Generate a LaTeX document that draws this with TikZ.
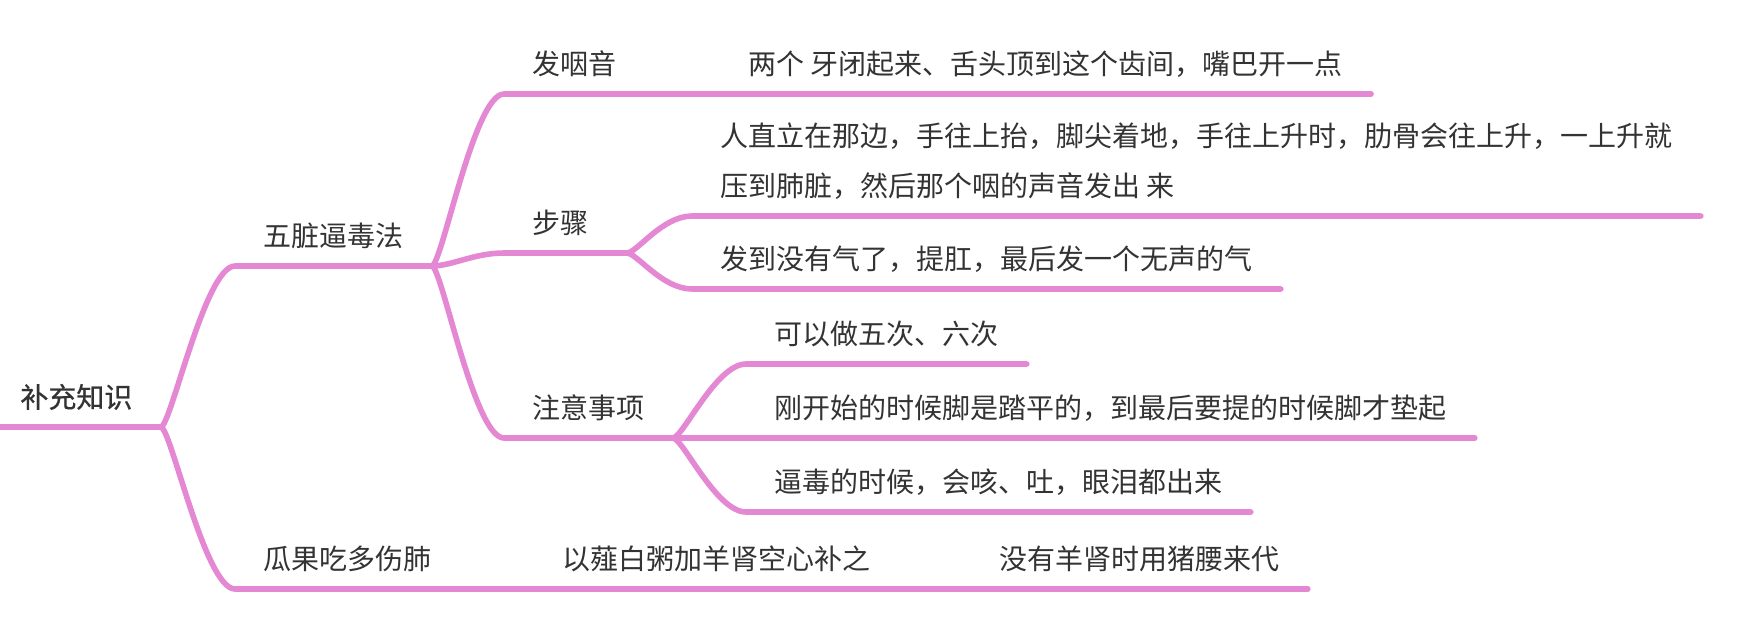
\documentclass[tikz,border=0pt]{standalone}
\usepackage{fontspec}
\newfontfamily\cjk{Noto Sans CJK SC}
\newfontfamily\cjkroot{Noto Sans CJK SC}[FakeBold=0.6]
\definecolor{branch}{RGB}{228,136,212}
\definecolor{ink}{RGB}{51,51,51}
\begin{document}
\begin{tikzpicture}[x=0.5pt,y=-0.5pt,
  topic/.style={anchor=south west, inner xsep=14pt, inner ysep=9.5pt, text depth=0pt, text=ink, font=\cjk\fontsize{14pt}{25pt}\selectfont},
  link/.style={draw=branch, line width=2.8pt, line cap=round}]
\useasboundingbox (0,0) rectangle (1744,618);
\node[topic, font=\cjkroot\fontsize{14pt}{25pt}\selectfont] (a) at (-8,427) {补充知识};
\node[topic] (b) at (235,266) {五脏逼毒法};
\node[topic] (c) at (235,589) {瓜果吃多伤肺};
\node[topic] (d) at (504,94) {发咽音};
\node[topic, text width=33pt, align=left] (e) at (504,253) {步骤};
\node[topic] (f) at (504,438) {注意事项};
\node[topic] (g) at (720,94) {两个 牙闭起来、舌头顶到这个齿间，嘴巴开一点};
\node[topic, align=left] (h) at (692,216) {人直立在那边，手往上抬，脚尖着地，手往上升时，肋骨会往上升，一上升就\\压到肺脏，然后那个咽的声音发出 来};
\node[topic] (i) at (692,289) {发到没有气了，提肛，最后发一个无声的气};
\node[topic] (j) at (746,364) {可以做五次、六次};
\node[topic] (k) at (746,438) {刚开始的时候脚是踏平的，到最后要提的时候脚才垫起};
\node[topic] (l) at (746,512) {逼毒的时候，会咳、吐，眼泪都出来};
\node[topic] (m) at (534,589) {以薤白粥加羊肾空心补之};
\node[topic] (n) at (971,589) {没有羊肾时用猪腰来代};
\draw[link] (a.south west) -- (a.south east);
\draw[link] (a.south east) .. controls +(10,0) and +(-30,0) .. (b.south west) -- (b.south east);
\draw[link] (a.south east) .. controls +(10,0) and +(-30,0) .. (c.south west) -- (c.south east);
\draw[link] (b.south east) .. controls +(10,0) and +(-30,0) .. (d.south west) -- (d.south east);
\draw[link] (b.south east) .. controls +(20,0) and +(-30,0) .. (e.south west) -- (e.south east);
\draw[link] (b.south east) .. controls +(10,0) and +(-30,0) .. (f.south west) -- (f.south east);
\draw[link] (d.south east) -- (g.south west) -- (g.south east);
\draw[link] (e.south east) .. controls +(10,0) and +(-30,0) .. (h.south west) -- (h.south east);
\draw[link] (e.south east) .. controls +(10,0) and +(-30,0) .. (i.south west) -- (i.south east);
\draw[link] (f.south east) .. controls +(10,0) and +(-30,0) .. (j.south west) -- (j.south east);
\draw[link] (f.south east) -- (k.south west) -- (k.south east);
\draw[link] (f.south east) .. controls +(10,0) and +(-30,0) .. (l.south west) -- (l.south east);
\draw[link] (c.south east) -- (m.south west) -- (m.south east);
\draw[link] (m.south east) -- (n.south west) -- (n.south east);
\end{tikzpicture}
\end{document}
